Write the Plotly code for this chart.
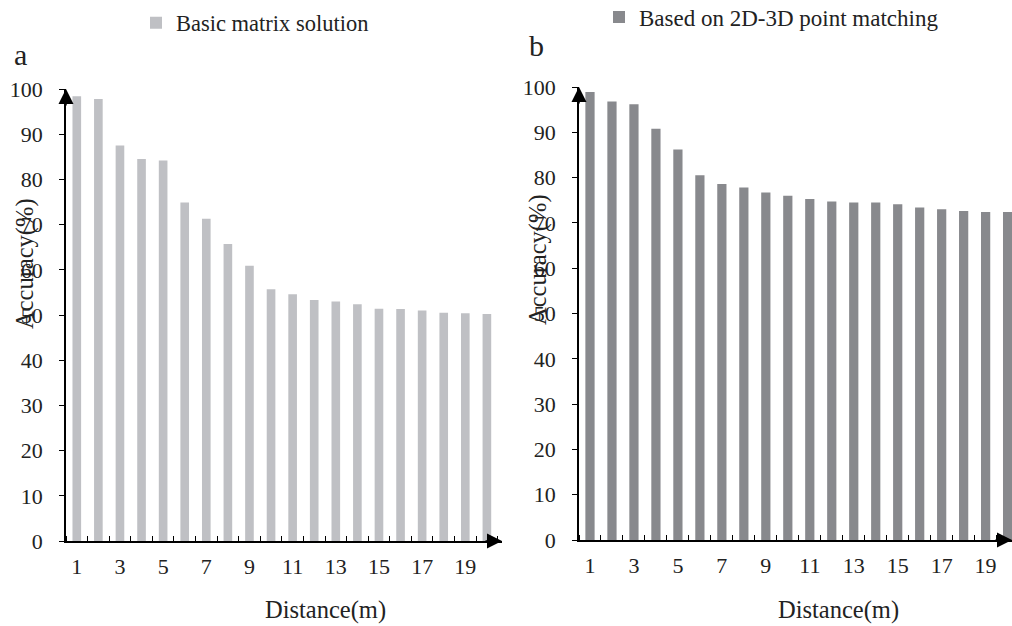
import plotly.graph_objects as go

W, H = 1012, 626

distance = list(range(1, 21))
basic_matrix = [98.4, 97.8, 87.5, 84.5, 84.2, 74.9, 71.3, 65.7, 60.9, 55.7,
                54.6, 53.3, 53.0, 52.4, 51.4, 51.3, 51.0, 50.5, 50.4, 50.2]
point_matching = [98.9, 96.8, 96.2, 90.8, 86.2, 80.5, 78.6, 77.8, 76.7, 76.0,
                  75.3, 74.7, 74.5, 74.5, 74.1, 73.4, 73.0, 72.6, 72.4, 72.4]
series_names = ["Basic matrix solution", "Based on 2D-3D point matching"]
x_tick_vals = [1, 3, 5, 7, 9, 11, 13, 15, 17, 19]
x_tick_text = [str(v) for v in x_tick_vals]
y_ticks = list(range(0, 101, 10))

FONT = "Liberation Serif"
LEFT_COLOR = "#bfc0c4"
RIGHT_COLOR = "#88898d"

fig = go.Figure()
fig.add_trace(go.Bar(x=distance, y=basic_matrix, name=series_names[0],
                     marker=dict(color=LEFT_COLOR, line=dict(width=0)), width=0.4,
                     xaxis="x", yaxis="y", legend="legend", showlegend=True))
fig.add_trace(go.Bar(x=distance, y=point_matching, name=series_names[1],
                     marker=dict(color=RIGHT_COLOR, line=dict(width=0)), width=0.42,
                     xaxis="x2", yaxis="y2", legend="legend2", showlegend=True))

def xaxis(domain, rng, anchor):
    return dict(domain=domain, range=rng, anchor=anchor, automargin=False,
                tickmode="array", tickvals=x_tick_vals, ticktext=x_tick_text,
                ticks="", showline=True, linecolor="black", linewidth=1.5,
                showgrid=False, zeroline=False, ticklabelstandoff=5,
                tickfont=dict(family=FONT, size=22, color="#222"),
                minor=dict(ticks="inside", tickmode="linear", tick0=0.5, dtick=1,
                           ticklen=5, tickwidth=1, tickcolor="black", showgrid=False))

def yaxis(domain, anchor):
    return dict(domain=domain, range=[0, 100], anchor=anchor, automargin=False,
                tickmode="array", tickvals=y_ticks,
                ticks="outside", ticklen=5, tickwidth=1, tickcolor="black",
                showline=True, linecolor="black", linewidth=1.5,
                showgrid=False, zeroline=False, ticklabelstandoff=12,
                tickfont=dict(family=FONT, size=22, color="#222"))

fig.update_layout(
    width=W, height=H, autosize=False,
    margin=dict(l=0, r=0, t=0, b=0, pad=0, autoexpand=False),
    paper_bgcolor="white", plot_bgcolor="white",
    font=dict(family=FONT, size=22, color="#222"),
    xaxis=xaxis([66 / W, 502 / W], [0.5, 20.7], "y"),
    yaxis=yaxis([(H - 541) / H, (H - 89) / H], "x"),
    xaxis2=xaxis([579 / W, 1.0], [0.5, 20.2], "y2"),
    yaxis2=yaxis([(H - 540) / H, (H - 87) / H], "x2"),
    legend=dict(x=136 / W, y=1 - 23 / H, xanchor="left", yanchor="middle",
                font=dict(family=FONT, size=22.5, color="#222"), bgcolor="rgba(0,0,0,0)"),
    legend2=dict(x=599 / W, y=1 - 17 / H, xanchor="left", yanchor="middle",
                 font=dict(family=FONT, size=23, color="#222"), bgcolor="rgba(0,0,0,0)"),
    bargap=0.6,
)

annotations = []
# arrowheads on axes
for xr, yr in [("x", "y"), ("x2", "y2")]:
    annotations.append(dict(xref=f"{xr} domain", yref=f"{yr} domain", x=0, y=1,
                            ax=0, ay=18, axref="pixel", ayref="pixel", text="",
                            showarrow=True, arrowhead=2, arrowsize=2.0, arrowwidth=1.5,
                            arrowcolor="black"))
    annotations.append(dict(xref=f"{xr} domain", yref=f"{yr} domain", x=1, y=0,
                            ax=-18, ay=0, axref="pixel", ayref="pixel", text="",
                            showarrow=True, arrowhead=2, arrowsize=2.0, arrowwidth=1.5,
                            arrowcolor="black"))

# panel letters
annotations.append(dict(xref="paper", yref="paper", x=20 / W, y=1 - 54 / H, text="a",
                        showarrow=False, font=dict(family=FONT, size=30, color="#222"),
                        xanchor="center", yanchor="middle"))
annotations.append(dict(xref="paper", yref="paper", x=536 / W, y=1 - 46 / H, text="b",
                        showarrow=False, font=dict(family=FONT, size=30, color="#222"),
                        xanchor="center", yanchor="middle"))
# axis titles
for cx, cy in [(25, 264), (538, 260)]:
    annotations.append(dict(xref="paper", yref="paper", x=cx / W, y=1 - cy / H,
                            text="Accuracy(%)", textangle=-90, showarrow=False,
                            font=dict(family=FONT, size=24.5, color="#222"),
                            xanchor="center", yanchor="middle"))
for cx, cy in [(325, 610), (838, 610)]:
    annotations.append(dict(xref="paper", yref="paper", x=cx / W, y=1 - cy / H,
                            text="Distance(m)", showarrow=False,
                            font=dict(family=FONT, size=24.5, color="#222"),
                            xanchor="center", yanchor="middle"))

fig.update_layout(annotations=annotations)
fig.write_html("out.html")
